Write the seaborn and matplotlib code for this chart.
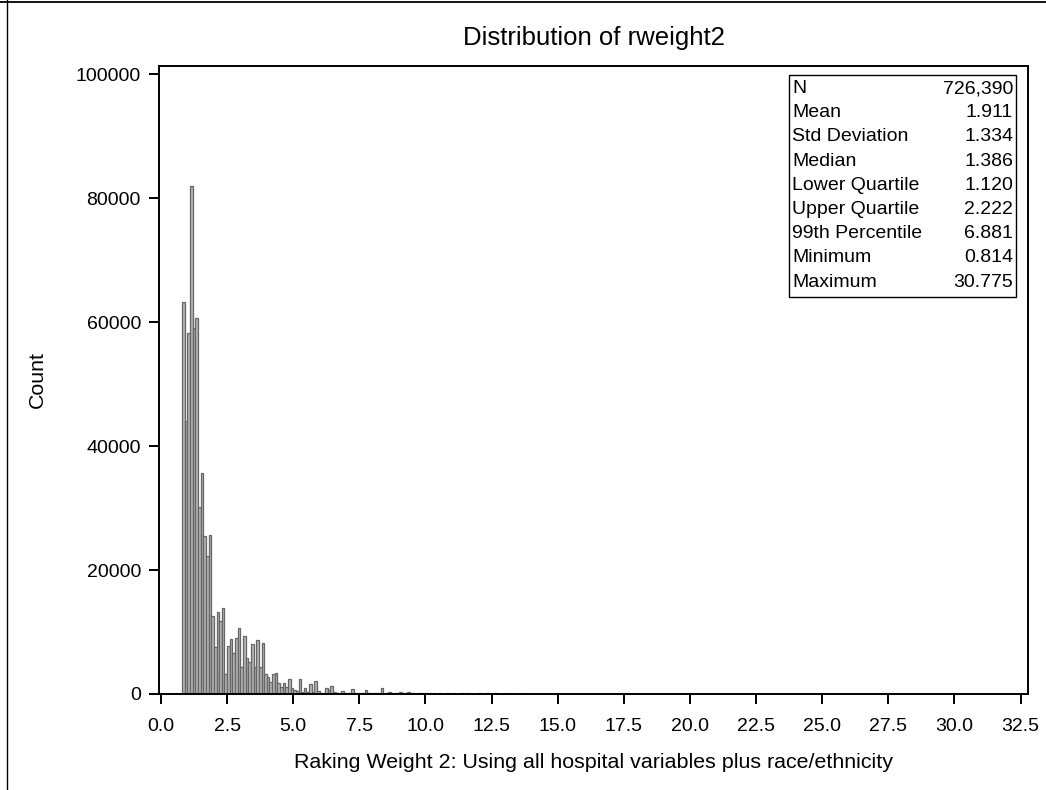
import numpy as np
import pandas as pd
import matplotlib
matplotlib.use("Agg")
import matplotlib.pyplot as plt
import seaborn as sns
from matplotlib.patches import Rectangle
from matplotlib.lines import Line2D

# ---------------- data ----------------
bin_width = 0.1
first_bin = 0.8
last_edge = 30.8

# counts of contiguous bins starting at 0.8 (width 0.1)
head_counts = [63200, 44000, 58200, 82000, 59000, 60700, 30100, 35700, 25500, 22300,
               25600, 12600, 7600, 13200, 11700, 13800, 3300, 7800, 8800, 6600,
               9100, 10700, 4400, 9400, 5800, 5100, 8000, 4300, 8700, 4300,
               8300, 3300, 2800, 2000, 3300, 3400, 1800, 1200, 1700, 1200,
               2500, 900, 600, 500, 2400, 400, 1000, 300, 1600, 400,
               2100, 500, 200, 100, 900, 600, 1300, 300, 100, 150,
               500, 100, 100, 150, 800, 100, 150, 200, 100, 600,
               150, 150, 100, 150, 100, 900, 100, 150, 300, 100]

# sparse tail bins (left edge) and their counts
tail_starts = [8.8, 8.9, 9.0, 9.1, 9.2, 9.3, 9.4, 9.5, 9.6, 9.7, 9.8, 9.9, 10.0,
               10.1, 10.2, 10.3, 10.5, 10.6, 10.8, 11.0, 11.2, 11.3, 11.5, 11.8,
               12.0, 12.1, 12.3, 12.5, 12.6, 12.8, 13.0, 13.1, 13.3, 13.4, 13.6,
               13.9, 14.1, 14.4, 14.6, 14.9, 15.2, 15.5, 15.6, 15.9, 16.0, 16.4,
               16.5, 16.7, 16.9, 17.1, 17.5, 17.6, 17.8, 18.0, 18.2, 18.4, 18.6,
               19.2, 20.5, 20.7, 20.8, 22.5, 23.0, 24.7, 25.6, 25.7, 26.4, 30.7]
tail_counts = [200, 100, 300, 150, 100, 250, 100, 150, 80, 120, 200, 80, 150,
               100, 80, 120, 150, 80, 100, 120, 80, 100, 150, 80,
               100, 80, 120, 80, 100, 80, 100, 60, 80, 60, 100,
               60, 80, 60, 80, 60, 60, 80, 60, 60, 80, 60,
               60, 80, 60, 60, 60, 60, 60, 60, 60, 60, 60,
               50, 60, 50, 60, 40, 40, 40, 40, 40, 40, 40]

stat_labels = ["N", "Mean", "Std Deviation", "Median", "Lower Quartile",
               "Upper Quartile", "99th Percentile", "Minimum", "Maximum"]
stat_values = ["726,390", "1.911", "1.334", "1.386", "1.120",
               "2.222", "6.881", "0.814", "30.775"]

x_ticks = [0.0, 2.5, 5.0, 7.5, 10.0, 12.5, 15.0, 17.5, 20.0, 22.5, 25.0, 27.5, 30.0, 32.5]
y_ticks = [0, 20000, 40000, 60000, 80000, 100000]

title = "Distribution of rweight2"
x_label = "Raking Weight 2: Using all hospital variables plus race/ethnicity"
y_label = "Count"

# ---------------- build table ----------------
starts = [round(first_bin + i * bin_width, 1) for i in range(len(head_counts))] + tail_starts
counts = head_counts + tail_counts
df = pd.DataFrame({"start": starts, "count": counts})
df["mid"] = df["start"] + bin_width / 2

# ---------------- figure ----------------
sns.set_theme(style="white")
plt.rcParams['font.family'] = ['Liberation Sans', 'DejaVu Sans']

W, H = 1046, 790
fig = plt.figure(figsize=(W / 100, H / 100), dpi=100)
fig.patch.set_facecolor("white")

ax_l, ax_r, ax_t, ax_b = 159, 1028, 66, 694
ax = fig.add_axes([ax_l / W, 1 - ax_b / H, (ax_r - ax_l) / W, (ax_b - ax_t) / H])

sns.histplot(data=df, x="mid", weights="count", binwidth=bin_width,
             binrange=(first_bin, last_edge), ax=ax,
             color="#b4b4b4", edgecolor="#666666", linewidth=0.9, alpha=1.0)

ax.set_xlim(-0.076, 32.78)
ax.set_ylim(0, 101300)
ax.set_xticks(x_ticks)
ax.set_xticklabels([f"{v:.1f}" for v in x_ticks])
ax.set_yticks(y_ticks)
ax.set_yticklabels([str(v) for v in y_ticks])

for sp in ax.spines.values():
    sp.set_visible(True)
    sp.set_color("black")
    sp.set_linewidth(1.4)

ax.tick_params(axis="both", which="major", direction="out", length=7, width=1.4,
               color="black", labelsize=14, labelcolor="black",
               bottom=True, left=True, top=False, right=False)
ax.tick_params(axis="x", pad=10.5)
ax.tick_params(axis="y", pad=6)

ax.set_xlabel(x_label, fontsize=15.4, color="black")
ax.xaxis.label.set_va("center")
ax.xaxis.set_label_coords(0.5, (ax_b - 762) / (ax_b - ax_t))
ax.set_ylabel(y_label, fontsize=15.4, color="black")
ax.yaxis.label.set_va("center")
ax.yaxis.set_label_coords((37 - ax_l) / (ax_r - ax_l), 0.5)

ax.text(0.5, (ax_b - 38) / (ax_b - ax_t), title, transform=ax.transAxes,
        ha="center", va="center", fontsize=18.5, color="black")

# statistics box
def ax_x(px):
    return (px - ax_l) / (ax_r - ax_l)

def ax_y(py):
    return (ax_b - py) / (ax_b - ax_t)

box_l, box_r, box_t, box_b = 789, 1016, 75, 297
ax.add_patch(Rectangle((ax_x(box_l), ax_y(box_b)), ax_x(box_r) - ax_x(box_l),
                       ax_y(box_t) - ax_y(box_b), transform=ax.transAxes,
                       fill=False, edgecolor="black", linewidth=1.0, zorder=5))
for i, (lab, val) in enumerate(zip(stat_labels, stat_values)):
    yy = ax_y(88.5 + 24.2 * i)
    ax.text(ax_x(792), yy, lab, transform=ax.transAxes, ha="left", va="center",
            fontsize=14, color="black", zorder=6)
    ax.text(ax_x(1013), yy, val, transform=ax.transAxes, ha="right", va="center",
            fontsize=14, color="black", zorder=6)

# outer frame fragments
fig.add_artist(Line2D([0, 1], [1 - 1.5 / H, 1 - 1.5 / H], transform=fig.transFigure,
                      color="black", linewidth=1.3))
fig.add_artist(Line2D([6.5 / W, 6.5 / W], [0, 1], transform=fig.transFigure,
                      color="black", linewidth=1.0))

fig.savefig("out.png", dpi=100, facecolor="white")
